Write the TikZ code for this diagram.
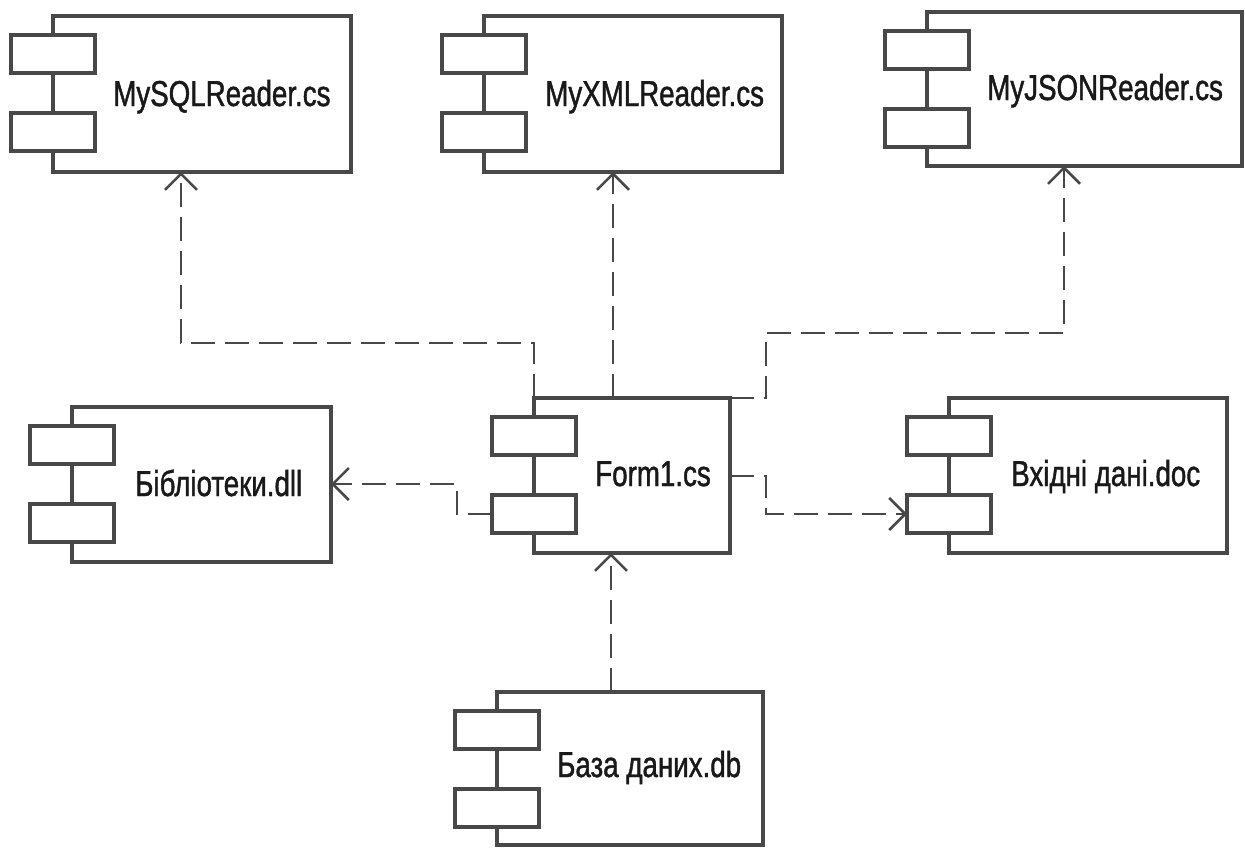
\documentclass[tikz,border=0pt]{standalone}
\usepackage{fontspec}
\newfontfamily\lblfont[FakeStretch=0.77,FakeBold=1.2]{Liberation Sans}
\usetikzlibrary{fit,arrows.meta}
\definecolor{ink}{RGB}{72,72,72}

\tikzset{
  compbox/.style={draw=ink, line width=2.4pt, inner sep=0pt, outer sep=0pt, fill=white},
  comptab/.style={draw=ink, line width=2.4pt, inner sep=0pt, outer sep=0pt, fill=white},
  lbl/.style={font=\lblfont\fontsize{27}{30}\selectfont, inner sep=0pt, anchor=base west, text=black!90},
  dep/.style={draw=ink, line width=1.9pt, dash pattern=on 18pt off 7.5pt,
              -{Straight Barb[length=12pt,width=24pt]}}
}

% UML component: body box plus the two interface tabs on its left edge
% #1 name, #2 left, #3 top, #4 right, #5 bottom (pixel units, y downwards)
\newcommand\umlcomponent[5]{%
  \node[compbox, fit={(#2,#3) (#4,#5)}] (#1) {};
  \node[comptab, fit={(#2-42,#3+19) (#2+42,#3+57)}] (#1-a) {};
  \node[comptab, fit={(#2-42,#3+97) (#2+42,#3+135)}] (#1-b) {};
}

\begin{document}
\begin{tikzpicture}[x=0.75pt, y=-0.75pt]
\useasboundingbox (0,0) rectangle (1245,847);

% components
\umlcomponent{sql}{53}{16}{351}{172}
\umlcomponent{xml}{484}{16}{782}{172}
\umlcomponent{json}{927}{12}{1242}{166}
\umlcomponent{lib}{72}{407}{331}{562}
\umlcomponent{form}{534}{398}{730}{553}
\umlcomponent{input}{949}{398}{1227}{553}
\umlcomponent{db}{497}{692}{763}{845}

% names
\node[lbl] (sql-l)   at (113,106)  {MySQLReader.cs};
\node[lbl] (xml-l)   at (545,106)  {MyXMLReader.cs};
\node[lbl] (json-l)  at (987,100)  {MyJSONReader.cs};
\node[lbl] (lib-l)   at (135,496)  {Бібліотеки.dll};
\node[lbl] (form-l)  at (595,486)  {Form1.cs};
\node[lbl] (input-l) at (1011,486) {Вхідні дані.doc};
\node[lbl] (db-l)    at (557,777)  {База даних.db};

% routing points
\coordinate (sqlbend)   at (181,343);
\coordinate (xmlx)      at (613,0);
\coordinate (jsonbend)  at (766,333);
\coordinate (jsonx)     at (1064,0);
\coordinate (libbend)   at (457,484);
\coordinate (inbend)    at (766,476);
\coordinate (dbx)       at (611,0);

% dependencies
\draw[dep] (form.north west) |- (sqlbend) -- (sqlbend |- sql.south);
\draw[dep] (form.north -| xmlx) -- (xml.south -| xmlx);
\draw[dep] (form.north east) -| (jsonbend) -| (jsonx |- json.south);
\draw[dep] (form-b.west) -| (libbend) -- (libbend -| lib.east);
\draw[dep] (form.east |- inbend) -- (inbend) |- (input-b.west);
\draw[dep] (db.north -| dbx) -- (form.south -| dbx);
\end{tikzpicture}
\end{document}
